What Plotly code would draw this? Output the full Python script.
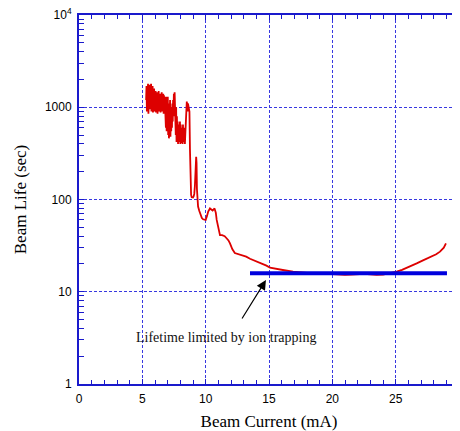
import plotly.graph_objects as go
import math

# Noisy low-current region (mA, sec)
noisy_x = [5.30, 5.33, 5.36, 5.39, 5.42, 5.45, 5.48, 5.51, 5.54, 5.57, 5.60, 5.63, 5.66, 5.69, 5.72, 5.75,
           5.78, 5.81, 5.84, 5.87, 5.90, 5.93, 5.96, 5.99, 6.02, 6.05, 6.08, 6.11, 6.14, 6.17, 6.20, 6.23,
           6.26, 6.29, 6.32, 6.35, 6.38, 6.41, 6.44, 6.47, 6.50, 6.53, 6.56, 6.59, 6.62, 6.65, 6.68, 6.71,
           6.74, 6.77, 6.80, 6.83, 6.86, 6.89, 6.92, 6.95, 6.98, 7.01, 7.04, 7.07, 7.10, 7.13, 7.16, 7.19,
           7.22, 7.25, 7.28, 7.31, 7.34, 7.37, 7.40, 7.43, 7.46, 7.49, 7.52, 7.55, 7.58, 7.61, 7.64, 7.67,
           7.70, 7.73, 7.76, 7.79, 7.82, 7.85, 7.88, 7.91, 7.94, 7.97, 8.00, 8.03, 8.06, 8.09, 8.12, 8.15,
           8.18, 8.21, 8.24, 8.27, 8.30, 8.33, 8.36, 8.39, 8.42, 8.45, 8.48, 8.51, 8.54, 8.57, 8.60, 8.63,
           8.66]
noisy_y = [1200, 1700, 900, 1600, 1000, 1800, 850, 1500, 1100, 1750, 950, 1650, 1000, 1800, 900, 1400,
           1100, 1700, 880, 1500, 1000, 1600, 900, 1450, 1000, 1500, 880, 1400, 950, 1450, 850, 1350,
           1000, 1500, 900, 1300, 950, 1400, 880, 1350, 1000, 1450, 900, 1300, 1050, 1400, 850, 1350,
           950, 1300, 870, 1250, 600, 1300, 550, 1200, 700, 1300, 500, 1100, 460, 900, 600, 1200,
           480, 1000, 550, 850, 600, 1100, 700, 1200, 900, 1400, 800, 1450, 700, 1300, 500, 1000,
           420, 800, 450, 700, 400, 650, 420, 600, 450, 700, 400, 650, 430, 600, 410, 550,
           400, 650, 420, 600, 450, 550, 400, 500, 600, 900, 1000, 1150, 1050, 900, 1100, 1000,
           950]

# Smoother higher-current region
tail_x = [8.72, 8.76, 8.80, 8.85, 8.90, 8.95, 9.00, 9.05, 9.10, 9.15, 9.20, 9.25, 9.28, 9.31, 9.34,
          9.40, 9.50, 9.60, 9.70, 9.80, 9.90, 10.00, 10.10, 10.20, 10.34, 10.45, 10.55, 10.70, 10.80,
          10.87, 10.95, 11.05, 11.13, 11.30, 11.50, 11.65, 11.80, 11.92, 12.10, 12.30, 12.60, 12.97,
          13.20, 13.50, 13.76, 14.10, 14.55, 14.80, 15.08, 15.40, 15.80, 16.20, 16.90, 17.50, 18.00,
          19.00, 20.00, 20.50, 21.00, 21.50, 22.00, 22.50, 23.00, 23.50, 24.00, 24.50, 25.08, 25.50,
          26.00, 26.66, 27.20, 27.70, 28.20, 28.50, 28.80, 28.97]
tail_y = [900, 350, 140, 112, 106, 104, 105, 108, 115, 140, 200, 290, 250, 130, 102,
          84, 75, 68, 63, 61, 60, 60, 66, 74, 80, 78, 76, 80, 72,
          60, 52, 44, 41, 41, 40, 38, 36, 33.5, 29, 26.3, 25.5, 25,
          24, 22.8, 22.1, 21.2, 20, 19.2, 18.2, 17.8, 17.4, 17.1, 16.5, 16.2, 16.0,
          15.8, 15.5, 15.3, 15.2, 15.3, 15.5, 15.6, 15.4, 15.2, 15.3, 15.8, 16.5, 17.3,
          18.4, 20.3, 22.0, 23.6, 25.5, 27.2, 30, 33.5]

trap_x = [13.5, 29.05]
trap_y = [15.9, 15.9]

x_ticks = [0, 5, 10, 15, 20, 25, 30]
y_ticks = [1, 10, 100, 1000, 10000]
y_ticktext = ["1", "10", "100", "1000", "10<sup>4</sup>"]

blue = "#1a1acc"
grid_blue = "#3838e0"
fig = go.Figure()
fig.add_trace(go.Scatter(x=noisy_x + tail_x, y=noisy_y + tail_y, mode="lines",
                         line=dict(color="#dd0000", width=1.8), showlegend=False))
fig.add_trace(go.Scatter(x=trap_x, y=trap_y, mode="lines",
                         line=dict(color="#0000dd", width=4), showlegend=False))

fig.add_annotation(x=14.76, y=math.log10(13.4), ax=12.8, ay=math.log10(4.94),
                   axref="x", ayref="y", xref="x", yref="y", text="", showarrow=True,
                   arrowhead=2, arrowsize=1.6, arrowwidth=1.2, arrowcolor="black")
fig.add_annotation(x=11.6, y=math.log10(3.2), xref="x", yref="y",
                   text="Lifetime limited by ion trapping", showarrow=False,
                   font=dict(family="Liberation Serif", size=14, color="#111111"))

# page body has an 8px margin; the figure is sized so the plot lands where the reference has it
fig.update_layout(
    width=452, height=423,
    margin=dict(l=71, r=1, t=7, b=47),
    paper_bgcolor="white", plot_bgcolor="white",
    font=dict(family="Liberation Sans", size=11, color="black"),
)
fig.update_xaxes(range=[0, 30], tickvals=x_ticks, ticks="inside", ticklen=5, tickcolor=blue,
                 showline=True, linecolor=blue, linewidth=2, mirror="allticks",
                 showgrid=True, gridcolor=grid_blue, griddash="3px,2px", gridwidth=1, zeroline=False,
                 minor=dict(dtick=1, ticks="inside", ticklen=4, tickcolor=blue, showgrid=False),
                 title=dict(text="Beam Current (mA)", font=dict(family="Liberation Serif", size=17), standoff=14),
                 automargin=False, ticklabeloverflow="allow", ticklabelstandoff=3, tickfont=dict(size=12))
fig.update_yaxes(type="log", range=[0, 4], tickvals=y_ticks, ticktext=y_ticktext,
                 ticks="inside", ticklen=5, tickcolor=blue,
                 showline=True, linecolor=blue, linewidth=2, mirror="allticks",
                 showgrid=True, gridcolor=grid_blue, griddash="3px,2px", gridwidth=1, zeroline=False,
                 minor=dict(dtick="D1", ticks="inside", ticklen=5, tickcolor=blue, showgrid=False),
                 title=dict(text="Beam Life (sec)", font=dict(family="Liberation Serif", size=17), standoff=14),
                 automargin=False, ticklabeloverflow="allow", ticklabelstandoff=3, tickfont=dict(size=12))

fig.write_html("out.html")
